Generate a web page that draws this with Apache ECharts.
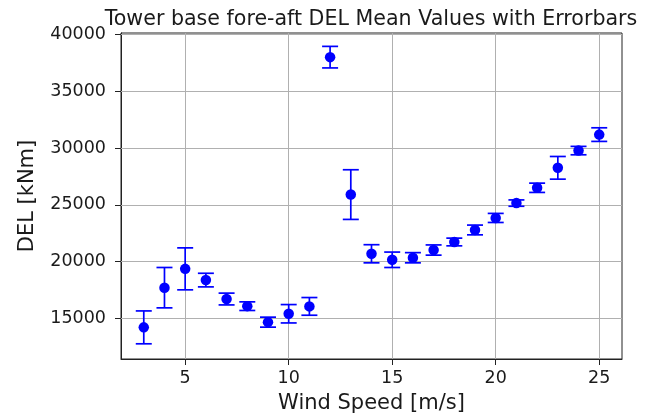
<!DOCTYPE html>
<html>
<head>
<meta charset="utf-8">
<title>Tower base fore-aft DEL</title>
<script src="https://cdn.jsdelivr.net/npm/echarts@6/dist/echarts.min.js"></script>
<style>
  html, body { margin: 0; padding: 0; background: #fff; }
  #chart { width: 650px; height: 419px; }
</style>
</head>
<body>
<div id="chart"></div>
<script>
// Wind speed bins [m/s]
const windSpeed = [3, 4, 5, 6, 7, 8, 9, 10, 11, 12, 13, 14, 15, 16, 17, 18, 19, 20, 21, 22, 23, 24, 25];
// Mean damage-equivalent load per bin [kNm]
const delMean = [14190, 17690, 19350, 18360, 16690, 16060, 14650, 15390, 16040, 38020, 25900, 20680,
                 20150, 20330, 21010, 21720, 22780, 23840, 25150, 26500, 28260, 29780, 31190];
// Half-width of the error bar per bin [kNm]
const delErr = [1450, 1780, 1850, 600, 520, 380, 440, 810, 780, 950, 2190, 800,
                680, 450, 450, 340, 430, 400, 280, 410, 1000, 370, 600];

const xTicks = [5, 10, 15, 20, 25];
const yTicks = [15000, 20000, 25000, 30000, 35000, 40000];

const FONT = 'DejaVu Sans';
const TEXT = '#1a1a1a';

const meanPoints = windSpeed.map((x, i) => [x, delMean[i]]);
const errPoints = windSpeed.map((x, i) => [x, delMean[i] - delErr[i], delMean[i] + delErr[i]]);

const chart = echarts.init(document.getElementById('chart'), null, { renderer: 'canvas' });

const gridStyle = { color: '#b0b0b0', width: 1, type: 'solid' };

chart.setOption({
  animation: false,
  backgroundColor: '#fff',
  title: {
    text: 'Tower base fore-aft DEL Mean Values with Errorbars',
    left: 366, top: 4, textAlign: 'center',
    textStyle: { fontFamily: FONT, fontSize: 20.6, fontWeight: 'normal', color: TEXT }
  },
  grid: { left: 121, right: 28, top: 33, bottom: 60, show: true, borderColor: '#222', borderWidth: 1, backgroundColor: 'transparent' },
  xAxis: {
    type: 'value', min: 1.9, max: 26.1,
    name: 'Wind Speed [m/s]', nameLocation: 'middle', nameGap: 34,
    nameTextStyle: { fontFamily: FONT, fontSize: 21, color: TEXT },
    axisLine: { show: true, onZero: false, lineStyle: { color: '#222', width: 1 } },
    axisTick: { show: true, inside: false, length: 6, customValues: xTicks, lineStyle: { color: '#222', width: 1 } },
    axisLabel: { customValues: xTicks, margin: 10, fontFamily: FONT, fontSize: 17.5, color: TEXT },
    splitLine: { show: false }
  },
  yAxis: {
    type: 'value', min: 11400, max: 40150,
    name: 'DEL [kNm]', nameLocation: 'middle', nameGap: 83, nameRotate: 90,
    nameTextStyle: { fontFamily: FONT, fontSize: 21, color: TEXT },
    axisLine: { show: true, onZero: false, lineStyle: { color: '#222', width: 1 } },
    axisTick: { show: true, inside: false, length: 6, customValues: yTicks, lineStyle: { color: '#222', width: 1 } },
    axisLabel: {
      customValues: yTicks, margin: 15, fontFamily: FONT, fontSize: 17.5, color: TEXT,
      formatter: v => String(v)
    },
    splitLine: { show: false }
  },
  series: [
    {
      // grid lines at the tick positions
      type: 'line', data: [], silent: true,
      markLine: {
        silent: true, symbol: ['none', 'none'], label: { show: false },
        lineStyle: gridStyle, z: 1,
        data: xTicks.map(v => ({ xAxis: v })).concat(yTicks.map(v => ({ yAxis: v })))
      }
    },
    {
      // error bars with caps
      type: 'custom', z: 3,
      data: errPoints,
      renderItem: function (params, api) {
        const x = api.value(0);
        const lo = api.coord([x, api.value(1)]);
        const hi = api.coord([x, api.value(2)]);
        const cap = 8;
        const style = { stroke: '#0000ff', lineWidth: 1.7 };
        return {
          type: 'group',
          children: [
            { type: 'line', shape: { x1: lo[0], y1: lo[1], x2: hi[0], y2: hi[1] }, style },
            { type: 'line', shape: { x1: hi[0] - cap, y1: hi[1], x2: hi[0] + cap, y2: hi[1] }, style },
            { type: 'line', shape: { x1: lo[0] - cap, y1: lo[1], x2: lo[0] + cap, y2: lo[1] }, style }
          ]
        };
      }
    },
    {
      type: 'scatter', z: 4,
      data: meanPoints,
      symbol: 'circle', symbolSize: 10.5,
      itemStyle: { color: '#0000ff', opacity: 1 }
    }
  ]
});
</script>
</body>
</html>
